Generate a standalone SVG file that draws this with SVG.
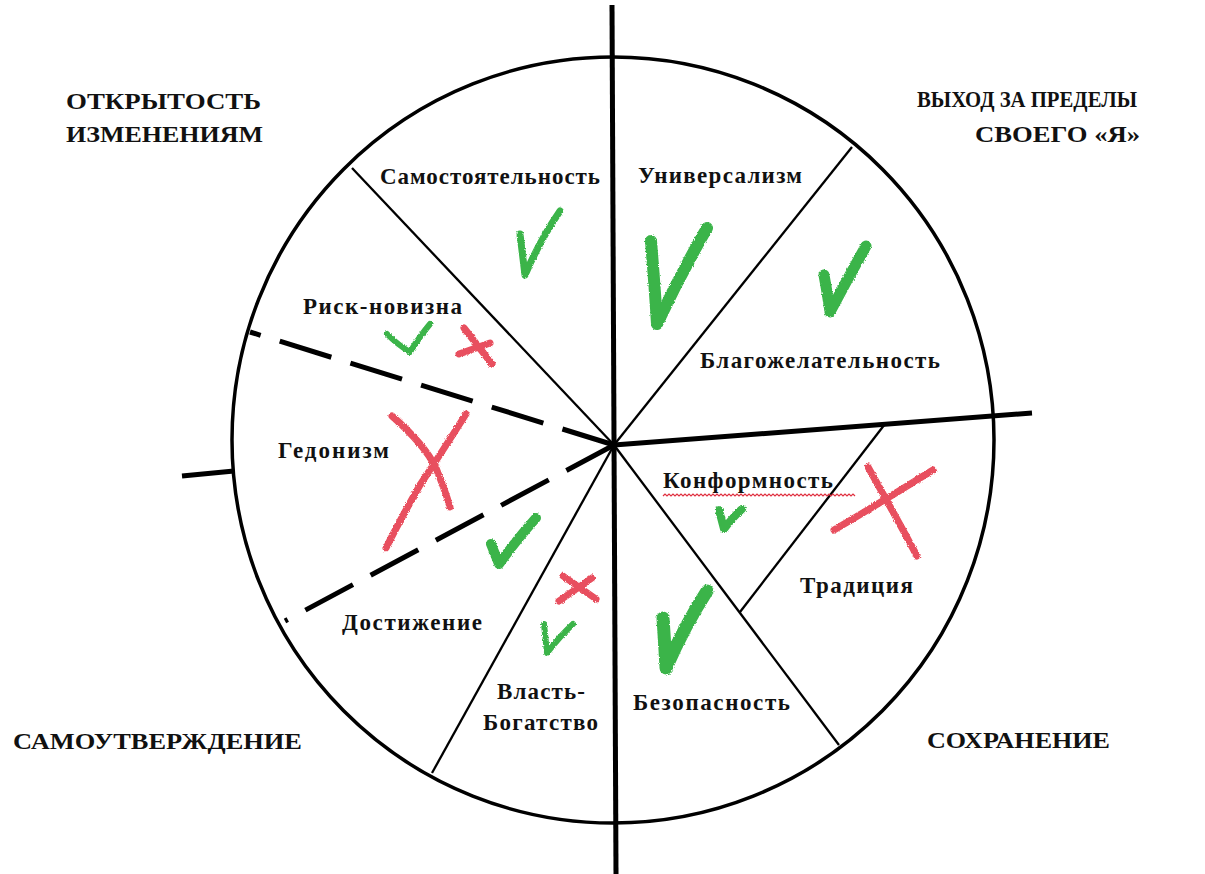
<svg xmlns="http://www.w3.org/2000/svg" width="1205" height="874" viewBox="0 0 1205 874">
<defs>
<style>
.t{font-family:"Liberation Serif","Times New Roman",serif;font-weight:bold;fill:#111;}
.lbl{font-size:23px;}
.ttl{font-size:23px;}
.thick{stroke:#000;stroke-width:5;fill:none;stroke-linecap:butt;}
.thin{stroke:#000;stroke-width:2.3;fill:none;}
.dash{stroke:#000;stroke-width:5;fill:none;stroke-dasharray:54 20;}
.g{stroke:#3bb44a;fill:none;stroke-linecap:round;stroke-linejoin:round;filter:url(#rough);}
.r{stroke:#e8505e;fill:none;stroke-linecap:round;stroke-linejoin:round;filter:url(#rough);}
</style>
<filter id="rough" x="-20%" y="-20%" width="140%" height="140%">
<feTurbulence type="fractalNoise" baseFrequency="0.9" numOctaves="2" seed="3" result="n"/>
<feDisplacementMap in="SourceGraphic" in2="n" scale="3" xChannelSelector="R" yChannelSelector="G"/>
</filter>
</defs>
<rect width="1205" height="874" fill="#fff"/>

<g id="structure">
<ellipse cx="613" cy="440" rx="381" ry="383" fill="none" stroke="#000" stroke-width="3.5"/>
</g>

<g id="connectors">
<line class="thick" x1="612" y1="5" x2="616" y2="874"/>
<line class="thick" x1="614" y1="445" x2="1032" y2="413"/>
<line class="thick" x1="182" y1="476" x2="234" y2="471"/>
<line class="dash" x1="614" y1="445" x2="250" y2="332"/>
<line class="dash" x1="614" y1="445" x2="285" y2="621"/>
<line class="thin" x1="614" y1="445" x2="352" y2="168"/>
<line class="thin" x1="614" y1="445" x2="852" y2="147"/>
<line class="thin" x1="614" y1="445" x2="839" y2="745"/>
<line class="thin" x1="614" y1="445" x2="432" y2="773"/>
<line class="thin" x1="885" y1="424" x2="740" y2="612"/>
</g>

<g id="titles">
<text class="t ttl" x="66" y="109" textLength="195" lengthAdjust="spacingAndGlyphs">ОТКРЫТОСТЬ</text>
<text class="t ttl" x="66" y="142" textLength="197" lengthAdjust="spacingAndGlyphs">ИЗМЕНЕНИЯМ</text>
<text class="t ttl" x="917" y="107" textLength="220" lengthAdjust="spacingAndGlyphs">ВЫХОД ЗА ПРЕДЕЛЫ</text>
<text class="t ttl" x="975" y="142" textLength="165" lengthAdjust="spacingAndGlyphs">СВОЕГО «Я»</text>
<text class="t ttl" x="13" y="749" textLength="289" lengthAdjust="spacingAndGlyphs">САМОУТВЕРЖДЕНИЕ</text>
<text class="t ttl" x="927" y="748" textLength="183" lengthAdjust="spacingAndGlyphs">СОХРАНЕНИЕ</text>
</g>

<g id="node-samostoyatelnost">
<text class="t lbl" x="380" y="184" textLength="220">Самостоятельность</text>
<path class="g" stroke-width="7" d="M520,234 Q523,258 525,275 Q540,240 560,211"/>
</g>
<g id="node-risk">
<text class="t lbl" x="303" y="314" textLength="159">Риск-новизна</text>
<path class="g" stroke-width="6" d="M387,334 Q398,345 410,352 Q420,336 430,324"/>
<path class="r" stroke-width="7" d="M464,328 L492,364 M459,354 L490,343"/>
</g>
<g id="node-gedonizm">
<text class="t lbl" x="278" y="458" textLength="111">Гедонизм</text>
<path class="r" stroke-width="7" d="M392,416 Q425,445 436,468 Q445,490 450,507"/>
<path class="r" stroke-width="7" d="M466,414 Q440,455 420,485 Q400,520 386,548"/>
</g>
<g id="node-dostizhenie">
<text class="t lbl" x="342" y="630" textLength="140">Достижение</text>
<path class="g" stroke-width="10" d="M491,544 L499,564 Q518,538 536,518"/>
</g>
<g id="node-vlast">
<text class="t lbl" x="497" y="699" textLength="88">Власть-</text>
<text class="t lbl" x="483" y="730" textLength="115">Богатство</text>
<path class="r" stroke-width="7" d="M563,576 L596,599 M559,601 L592,578"/>
<path class="g" stroke-width="6" d="M544,624 L547,653 Q560,636 573,624"/>
</g>
<g id="node-universalizm">
<text class="t lbl" x="638" y="183" textLength="164">Универсализм</text>
<path class="g" stroke-width="12" d="M651,241 Q655,290 657,324 Q680,275 707,228"/>
</g>
<g id="node-blagozhelatelnost">
<text class="t lbl" x="700" y="368" textLength="240">Благожелательность</text>
<path class="g" stroke-width="11" d="M824,275 Q828,297 830,312 Q848,278 866,246"/>
</g>
<g id="node-konformnost">
<text class="t lbl" x="663" y="488" textLength="170">Конформность</text>
<path fill="none" stroke="#e03040" stroke-width="1.2" d="M663,496 l2,-2 l2,2 l2,-2 l2,2 l2,-2 l2,2 l2,-2 l2,2 l2,-2 l2,2 l2,-2 l2,2 l2,-2 l2,2 l2,-2 l2,2 l2,-2 l2,2 l2,-2 l2,2 l2,-2 l2,2 l2,-2 l2,2 l2,-2 l2,2 l2,-2 l2,2 l2,-2 l2,2 l2,-2 l2,2 l2,-2 l2,2 l2,-2 l2,2 l2,-2 l2,2 l2,-2 l2,2 l2,-2 l2,2 l2,-2 l2,2 l2,-2 l2,2 l2,-2 l2,2 l2,-2 l2,2 l2,-2 l2,2 l2,-2 l2,2 l2,-2 l2,2 l2,-2 l2,2 l2,-2 l2,2 l2,-2 l2,2 l2,-2 l2,2 l2,-2 l2,2 l2,-2 l2,2 l2,-2 l2,2 l2,-2 l2,2 l2,-2 l2,2 l2,-2 l2,2 l2,-2 l2,2 l2,-2 l2,2 l2,-2 l2,2 l2,-2 l2,2 l2,-2 l2,2 l2,-2 l2,2 l2,-2 l2,2 l2,-2 l2,2 l2,-2 l2,2 l2,-2 l2,2"/>
<path class="g" stroke-width="8" d="M719,510 L724,529 Q733,517 742,509"/>
</g>
<g id="node-traditsiya">
<text class="t lbl" x="800" y="593" textLength="113">Традиция</text>
<path class="r" stroke-width="7" d="M834,530 Q885,500 933,470"/>
<path class="r" stroke-width="7" d="M868,467 Q895,515 917,556"/>
</g>
<g id="node-bezopasnost">
<text class="t lbl" x="633" y="710" textLength="157">Безопасность</text>
<path class="g" stroke-width="13" d="M663,618 Q665,648 666,668 Q685,625 707,591"/>
</g>
</svg>
